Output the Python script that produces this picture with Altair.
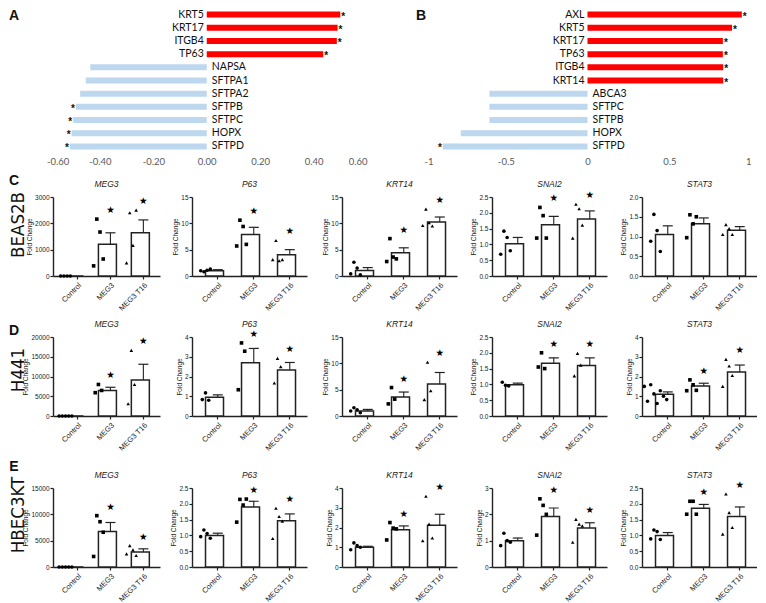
import altair as alt
import pandas as pd

FONT = "Liberation Sans, Arial, sans-serif"
FONT_A = "Lato, Carlito, sans-serif"
FONT_ROW = "Liberation Sans Narrow, DejaVu Sans Condensed, Liberation Sans, sans-serif"
INK = "#222222"
MINUS = "\u2212"

GROUPS = ["Control", "MEG3", "MEG3 T16"]
GENES = ["MEG3", "P63", "KRT14", "SNAI2", "STAT3"]

# ---------------- Panel A ----------------
A_GENES = ["KRT5", "KRT17", "ITGB4", "TP63", "NAPSA", "SFTPA1", "SFTPA2", "SFTPB", "SFTPC", "HOPX", "SFTPD"]
A_VALUES = [0.50, 0.49, 0.487, 0.436, -0.436, -0.453, -0.474, -0.49, -0.50, -0.506, -0.512]
A_SIG = [1, 1, 1, 1, 0, 0, 0, 1, 1, 1, 1]
A_TICKS = [-0.6, -0.4, -0.2, 0.0, 0.2, 0.4, 0.6]

# ---------------- Panel B ----------------
B_GENES = ["AXL", "KRT5", "KRT17", "TP63", "ITGB4", "KRT14", "ABCA3", "SFTPC", "SFTPB", "HOPX", "SFTPD"]
B_VALUES = [0.944, 0.884, 0.828, 0.828, 0.83, 0.83, -0.60, -0.60, -0.60, -0.775, -0.885]
B_SIG = [1, 1, 1, 1, 1, 1, 0, 0, 0, 0, 1]
B_TICKS = [-1, -0.5, 0, 0.5, 1]

# ---------------- Panel C: BEAS2B ----------------
BEAS2B_MEAN = {"MEG3": [0, 1210, 1640], "P63": [1.0, 7.9, 4.05], "KRT14": [1.05, 4.4, 10.25],
               "SNAI2": [1.02, 1.62, 1.8], "STAT3": [1.05, 1.32, 1.16]}
BEAS2B_SEM = {"MEG3": [0, 430, 490], "P63": [0.2, 1.35, 0.95], "KRT14": [0.55, 0.95, 0.95],
              "SNAI2": [0.2, 0.27, 0.26], "STAT3": [0.22, 0.15, 0.09]}
BEAS2B_POINTS = {
    "MEG3": [[0, 0, 0, 0], [385, 2160, 1670, 645], [500, 2400, 1165, 2500]],
    "P63": [[1.0, 0.8, 1.1, 1.3], [5.7, 10.6, 9.4, 6.0], [3.1, 6.75, 2.9, 3.1]],
    "KRT14": [[0.4, 2.6, 1.5, 0.25], [2.75, 7.1, 3.6, 3.25], [9.6, 12.7, 10.1, 9.5]],
    "SNAI2": [[0.69, 1.42, 1.22, 0.8], [1.2, 2.17, 1.91, 1.2], [1.2, 2.27, 2.13, 1.61]],
    "STAT3": [[0.88, 1.56, 1.15, 0.62], [0.97, 1.55, 1.32, 1.50], [1.05, 1.30, 1.2, 1.05]],
}
BEAS2B_STAR = {"MEG3": [0, 1, 1], "P63": [0, 1, 1], "KRT14": [0, 1, 1], "SNAI2": [0, 1, 1], "STAT3": [0, 0, 0]}
BEAS2B_TICKS = {"MEG3": [0, 1000, 2000, 3000], "P63": [0, 5, 10, 15], "KRT14": [0, 5, 10, 15],
                "SNAI2": [0, 0.5, 1.0, 1.5, 2.0, 2.5], "STAT3": [0, 0.5, 1.0, 1.5, 2.0]}

# ---------------- Panel D: H441 ----------------
H441_MEAN = {"MEG3": [0, 6470, 9100], "P63": [0.95, 2.7, 2.33], "KRT14": [0.95, 3.6, 6.06],
             "SNAI2": [0.99, 1.67, 1.6], "STAT3": [1.1, 1.52, 2.23]}
H441_SEM = {"MEG3": [0, 800, 4000], "P63": [0.12, 0.72, 0.38], "KRT14": [0.3, 0.95, 2.2],
            "SNAI2": [0.05, 0.17, 0.24], "STAT3": [0.12, 0.14, 0.35]}
H441_POINTS = {
    "MEG3": [[0, 0, 0, 0, 0], [5900, 7980, 6470], [3110, 16600, 7980]],
    "P63": [[0.83, 1.17, 0.8], [1.33, 3.7, 3.28], [1.67, 2.92, 2.5]],
    "KRT14": [[0.94, 1.56, 1.19, 0.63], [2.3, 5.4, 3.2], [3.1, 10.2, 4.8]],
    "SNAI2": [[1.07, 0.97, 0.95], [1.55, 2.0, 1.5], [1.27, 1.98, 1.61]],
    "STAT3": [[1.5, 0.75, 1.58, 1.12, 0.63, 1.28, 1.0, 0.83], [1.28, 1.83, 1.58, 1.3], [1.5, 2.87, 2.53, 2.05]],
}
H441_STAR = {"MEG3": [0, 1, 1], "P63": [0, 1, 1], "KRT14": [0, 1, 1], "SNAI2": [0, 1, 1], "STAT3": [0, 1, 1]}
H441_TICKS = {"MEG3": [0, 5000, 10000, 15000, 20000], "P63": [0, 1, 2, 3, 4], "KRT14": [0, 5, 10, 15],
              "SNAI2": [0, 0.5, 1.0, 1.5, 2.0, 2.5], "STAT3": [0, 1, 2, 3, 4]}

# ---------------- Panel E: HBEC3KT ----------------
HBEC3KT_MEAN = {"MEG3": [0, 6750, 2850], "P63": [1.0, 1.9, 1.46], "KRT14": [1.0, 1.88, 2.12],
                "SNAI2": [1.0, 1.92, 1.48], "STAT3": [1.0, 1.86, 1.6]}
HBEC3KT_SEM = {"MEG3": [0, 1700, 600], "P63": [0.07, 0.18, 0.22], "KRT14": [0.05, 0.2, 0.55],
               "SNAI2": [0.1, 0.32, 0.2], "STAT3": [0.09, 0.12, 0.3]}
HBEC3KT_POINTS = {
    "MEG3": [[0, 0, 0, 0, 0], [2000, 9750, 8600, 6600], [2500, 4060, 3250, 2190]],
    "P63": [[0.96, 1.17, 1.06, 0.91], [1.42, 2.14, 1.96, 2.15], [0.9, 1.86, 1.6, 1.45]],
    "KRT14": [[0.87, 1.22, 1.08, 1.0], [1.37, 2.25, 1.97, 1.93], [1.33, 3.58, 2.17, 1.47]],
    "SNAI2": [[0.81, 1.28, 1.0, 0.94], [1.21, 2.59, 2.34, 2.0], [0.94, 1.81, 1.63, 1.56]],
    "STAT3": [[0.89, 1.17, 1.12, 0.87], [1.67, 2.08, 2.08, 1.67], [1.04, 2.31, 1.72, 1.25]],
}
HBEC3KT_STAR = {"MEG3": [0, 1, 1], "P63": [0, 1, 1], "KRT14": [0, 1, 1], "SNAI2": [0, 1, 1], "STAT3": [0, 1, 1]}
HBEC3KT_TICKS = {"MEG3": [0, 5000, 10000, 15000], "P63": [0, 0.5, 1.0, 1.5, 2.0, 2.5], "KRT14": [0, 1, 2, 3, 4],
                 "SNAI2": [0, 1, 2, 3], "STAT3": [0, 0.5, 1.0, 1.5, 2.0, 2.5]}

ROWS = [
    ("C", "BEAS2B", BEAS2B_MEAN, BEAS2B_SEM, BEAS2B_POINTS, BEAS2B_STAR, BEAS2B_TICKS, -16, 28),
    ("D", "H441", H441_MEAN, H441_SEM, H441_POINTS, H441_STAR, H441_TICKS, -6, 33),
    ("E", "HBEC3KT", HBEC3KT_MEAN, HBEC3KT_SEM, HBEC3KT_POINTS, HBEC3KT_STAR, HBEC3KT_TICKS, -21, 27),
]

PH = 79


def text_value(txt, x, y, **kw):
    return alt.Chart(pd.DataFrame({"t": [txt]})).mark_text(**kw).encode(
        text="t:N", x=alt.value(x), y=alt.value(y))


def diverging(genes, values, sig, ticks, fmt, width, rng, letter, lx, ly):
    df = pd.DataFrame({"gene": genes, "value": values, "sig": sig})
    df["dir"] = ["up" if v > 0 else "down" for v in values]
    df["zero"] = 0.0
    yenc = alt.Y("gene:N", sort=genes, axis=None,
                 scale=alt.Scale(paddingInner=0, paddingOuter=0))
    xs = alt.Scale(domain=[ticks[0], ticks[-1]], range=rng, nice=False, zero=False)
    xax = alt.Axis(values=ticks, labelExpr=f"replace(format(datum.value, '{fmt}'), '{MINUS}', '-')",
                   domain=False, ticks=False, grid=False, labelOverlap=False,
                   labelFont=FONT_A, labelFontSize=9.5, labelColor="#595959",
                   labelPadding=3, title=None)

    def X(f):
        return alt.X(f, scale=xs, axis=xax)

    base = alt.Chart(df)
    bars = base.mark_bar(size=6).encode(
        x=X("value:Q"), x2="zero:Q", y=yenc,
        color=alt.Color("dir:N", scale=alt.Scale(domain=["up", "down"], range=["#ff0000", "#bdd7ee"]),
                        legend=None))
    lab_up = base.transform_filter("datum.value > 0").mark_text(
        align="right", baseline="middle", dx=-3, font=FONT_A, fontSize=10.5, color="#111").encode(
        x=X("zero:Q"), y=yenc, text="gene:N")
    lab_dn = base.transform_filter("datum.value < 0").mark_text(
        align="left", baseline="middle", dx=5, font=FONT_A, fontSize=10.5, color="#111").encode(
        x=X("zero:Q"), y=yenc, text="gene:N")
    st_up = base.transform_filter("datum.value > 0 && datum.sig == 1").mark_text(
        align="left", baseline="middle", dx=1, dy=2, text="*", font=FONT, fontSize=10,
        fontWeight="bold", color="#111").encode(x=X("value:Q"), y=yenc)
    st_dn = base.transform_filter("datum.value < 0 && datum.sig == 1").mark_text(
        align="right", baseline="middle", dx=-1, dy=2, text="*", font=FONT, fontSize=10,
        fontWeight="bold", color="#111").encode(x=X("value:Q"), y=yenc)
    let = text_value(letter, lx, ly, font=FONT, fontSize=14, fontWeight="bold",
                     align="center", baseline="middle", color="#111")
    return alt.layer(bars, lab_up, lab_dn, st_up, st_dn, let).properties(width=width, height=145)


def panel(gene, mean, sem, points, star, yticks, letter=None, row_label=None, ly=0, ry=0):
    first = gene == "MEG3"
    pw = 107 if first else 115
    fmt = ".1f" if any(float(t) != int(t) for t in yticks) else "d"
    bdf = pd.DataFrame({"group": GROUPS, "mean": mean, "sem": sem, "sig": star,
                        "pmax": [max(p) for p in points]})
    pdf = pd.DataFrame({"group": [g for g, p in zip(GROUPS, points) for _ in p],
                        "value": [v for p in points for v in p]})
    if first:
        xs = alt.Scale(domain=GROUPS, paddingInner=0.27, paddingOuter=0.26, align=0.73)
    else:
        xs = alt.Scale(domain=GROUPS, paddingInner=0.32, paddingOuter=0.257, align=0.73)
    xax = alt.Axis(title=None, labelAngle=315, labelFont=FONT, labelFontSize=7.5, labelColor=INK,
                   labelPadding=2, tickSize=3, tickColor=INK, tickWidth=1.2, labelOverlap=False,
                   domainColor=INK, domainWidth=1.4, grid=False)
    X = alt.X("group:N", scale=xs, sort=GROUPS, axis=xax)
    ys = alt.Scale(domain=[0, yticks[-1]], nice=False, zero=True)
    yax = alt.Axis(values=yticks, format=fmt, title="Fold Change", titleFont=FONT,
                   titleFontSize=6.5, titleFontWeight="normal", titleColor=INK, titlePadding=2,
                   labelFont=FONT, labelFontSize=6.5, labelColor=INK, labelPadding=1,
                   labelOverlap=False, tickSize=3, tickColor=INK, tickWidth=1.2,
                   domainColor=INK, domainWidth=1.4, grid=False)

    def Y(f):
        return alt.Y(f, scale=ys, axis=yax)

    err = alt.Chart(bdf).transform_filter("datum.sem > 0").transform_calculate(
        top="datum.mean + datum.sem").mark_rule(color=INK, strokeWidth=1.1).encode(
        x=X, y=Y("mean:Q"), y2="top:Q")
    cap = alt.Chart(bdf).transform_filter("datum.sem > 0").transform_calculate(
        top="datum.mean + datum.sem").mark_tick(orient="horizontal", size=10, thickness=1.2,
                                                color=INK, opacity=1).encode(x=X, y=Y("top:Q"))
    bar = alt.Chart(bdf).mark_bar(fill="white", stroke=INK, strokeWidth=1.5).encode(
        x=X, y=Y("mean:Q"))
    pts = alt.Chart(pdf).transform_window(
        k="row_number()", groupby=["group"]).transform_joinaggregate(
        n="count()", groupby=["group"]).transform_calculate(
        off="datum.k - (datum.n + 1) / 2").mark_point(filled=True, size=13, opacity=1,
                                                      color="black").encode(
        x=X,
        xOffset=alt.XOffset("off:Q", scale=alt.Scale(domain=[-1, 1], range=[-3.2, 3.2],
                                                     zero=False, nice=False)),
        y=Y("value:Q"),
        shape=alt.Shape("group:N", scale=alt.Scale(domain=GROUPS,
                                                   range=["circle", "square", "triangle-up"]),
                        legend=None))
    stars = alt.Chart(bdf).transform_filter("datum.sig == 1").transform_calculate(
        sy="max(datum.mean + datum.sem, datum.pmax)").mark_text(
        text="\u2605", dy=-9, font="DejaVu Sans", fontSize=9.5, color="black",
        baseline="middle").encode(x=X, y=Y("sy:Q"))
    title = text_value(gene, pw / 2, -13, font=FONT, fontSize=8.5, fontStyle="italic",
                       color=INK, align="center", baseline="middle")
    layers = [err, cap, bar, pts, stars, title]
    if letter:
        layers.append(text_value(letter, -39, ly, font=FONT, fontSize=14, fontWeight="bold",
                                 align="center", baseline="middle", color="#111"))
        layers.append(text_value(row_label, -35, ry, font=FONT_ROW, fontSize=18.5, angle=270,
                                 align="center", baseline="middle", color="#111"))
    return alt.layer(*layers).properties(width=pw, height=PH)


A = diverging(A_GENES, A_VALUES, A_SIG, A_TICKS, ".2f", 320, [-6.5, 314], "A", -39, 8)
B = diverging(B_GENES, B_VALUES, B_SIG, B_TICKS, "~g", 327, [0, 327], "B", -3, 8)
top = alt.hconcat(A, B, spacing=51, bounds="flush")

rows = []
for letter, name, MEAN, SEM, PTS, STAR, TICKS, ly, ry in ROWS:
    ps = [panel(g, MEAN[g], SEM[g], PTS[g], STAR[g], TICKS[g],
                letter if g == "MEG3" else None, name, ly, ry) for g in GENES]
    rest = alt.hconcat(*ps[1:], spacing=35, bounds="flush")
    rows.append(alt.hconcat(ps[0], rest, spacing=32, bounds="flush"))

chart = alt.vconcat(top, *rows, spacing=8, bounds="full").properties(
    padding=0, background="white").configure_view(stroke=None)

chart.save("out.html", embed_options={"renderer": "svg", "actions": False})
